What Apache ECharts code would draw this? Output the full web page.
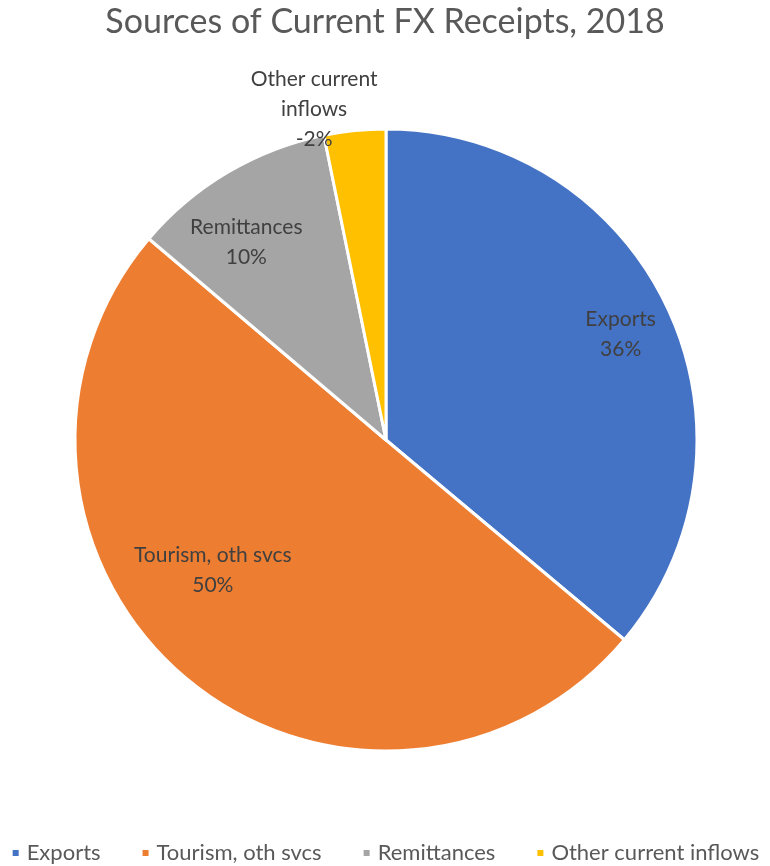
<!DOCTYPE html>
<html><head><meta charset="utf-8">
<script src="https://cdn.jsdelivr.net/npm/echarts@6/dist/echarts.min.js"></script>
<style>html,body{margin:0;padding:0;background:#fff}#c{width:770px;height:866px}</style>
</head><body><div id="c"></div>
<script>
const categories = ['Exports', 'Tourism, oth svcs', 'Remittances', 'Other current inflows'];
const labelNames = ['Exports', 'Tourism, oth svcs', 'Remittances', 'Other current\ninflows'];
const sliceValues = [36.1, 50.1, 10.6, 3.2];
const shownPercents = ['36%', '50%', '10%', '-2%'];
const colors = ['#4472C4', '#ED7D31', '#A5A5A5', '#FFC000'];
const labelOffsets = [[91, -39], [-71, 9], [-59, -61], [-56, -173]];

const chart = echarts.init(document.getElementById('c'));
chart.setOption({
  animation: false,
  title: {
    text: 'Sources of Current FX Receipts, 2018',
    left: 'center', top: 0,
    textStyle: {fontFamily: 'Lato', fontSize: 34, fontWeight: 'normal', color: '#595959'}
  },
  legend: {
    top: 837, left: 'center',
    itemWidth: 8, itemHeight: 8, itemGap: 40,
    icon: 'rect',
    textStyle: {fontFamily: 'Lato', fontSize: 22, color: '#595959', padding: [0, 0, 0, 2]},
    data: categories
  },
  series: [{
    type: 'pie',
    center: [386, 440],
    radius: 311,
    startAngle: 90,
    clockwise: true,
    itemStyle: {borderColor: '#fff', borderWidth: 3},
    labelLine: {show: false},
    data: categories.map((c, i) => ({
      name: c,
      value: sliceValues[i],
      itemStyle: {color: colors[i]},
      label: {
        show: true, position: 'inside',
        formatter: labelNames[i] + '\n' + shownPercents[i],
        offset: labelOffsets[i],
        fontFamily: 'Lato', fontSize: 21, lineHeight: 30, color: '#404040', align: 'center'
      }
    }))
  }]
});
</script></body></html>
